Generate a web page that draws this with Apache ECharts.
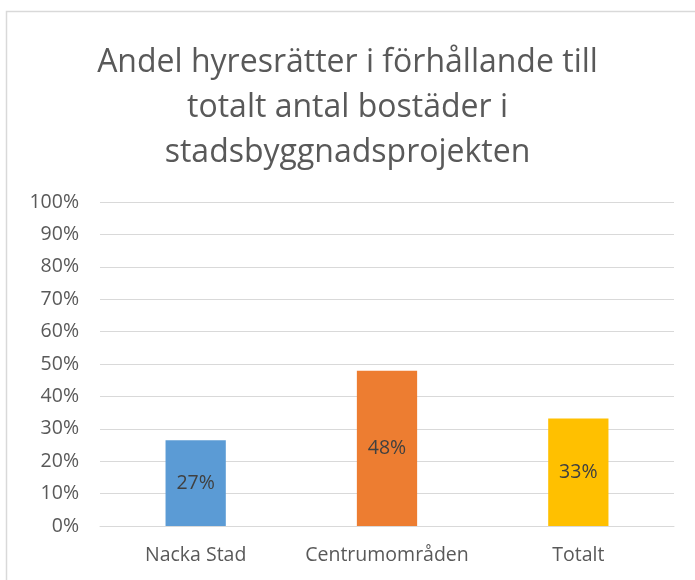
<!DOCTYPE html>
<html>
<head>
<meta charset="utf-8">
<script src="https://cdn.jsdelivr.net/npm/echarts@6/dist/echarts.min.js"></script>
<style>
  html, body { margin: 0; padding: 0; background: #fff; }
  #chart { width: 695px; height: 580px; }
</style>
</head>
<body>
<div id="chart"></div>
<script>
var categories = ['Nacka Stad', 'Centrumområden', 'Totalt']
var shares = [26.5, 47.9, 33.2]
var barColors = ['#5b9bd5', '#ed7d31', '#ffc000']
var titleText = 'Andel hyresrätter i förhållande till\ntotalt antal bostäder i\nstadsbyggnadsprojekten'

var font = '"Open Sans", Lato, sans-serif'
var chart = echarts.init(document.getElementById('chart'))

chart.setOption({
    animation: false,
    title: {
        text: titleText,
        left: 'center',
        top: 35,
        textStyle: { fontFamily: font, fontSize: 32, fontWeight: 'normal', color: '#595959', lineHeight: 45 }
    },
    graphic: [{
        type: 'rect',
        shape: { x: 6.5, y: 11.5, width: 700, height: 600 },
        style: { fill: 'none', stroke: '#d9d9d9', lineWidth: 1.5 },
        silent: true
    }],
    grid: { left: 100, right: 21, top: 202, bottom: 54 },
    xAxis: {
        type: 'category',
        data: categories,
        axisLine: { lineStyle: { color: '#d9d9d9' } },
        axisTick: { show: false },
        axisLabel: { interval: 0, fontFamily: font, fontSize: 19.5, color: '#595959', margin: 19 }
    },
    yAxis: {
        type: 'value',
        min: 0,
        max: 100,
        interval: 10,
        axisLine: { show: false },
        axisTick: { show: false },
        splitLine: { lineStyle: { color: '#d9d9d9' } },
        axisLabel: { fontFamily: font, fontSize: 19.5, color: '#595959', margin: 21, formatter: '{value}%' }
    },
    series: [{
        type: 'bar',
        barWidth: '31.5%',
        data: shares.map(function(v, i) {
            return { value: v, itemStyle: { color: barColors[i] } }
        }),
        label: {
            show: true,
            position: 'inside',
            fontFamily: font,
            fontSize: 19.5,
            color: '#404040',
            formatter: function(p) { return Math.round(p.value) + '%' }
        }
    }]
})
</script>
</body>
</html>
